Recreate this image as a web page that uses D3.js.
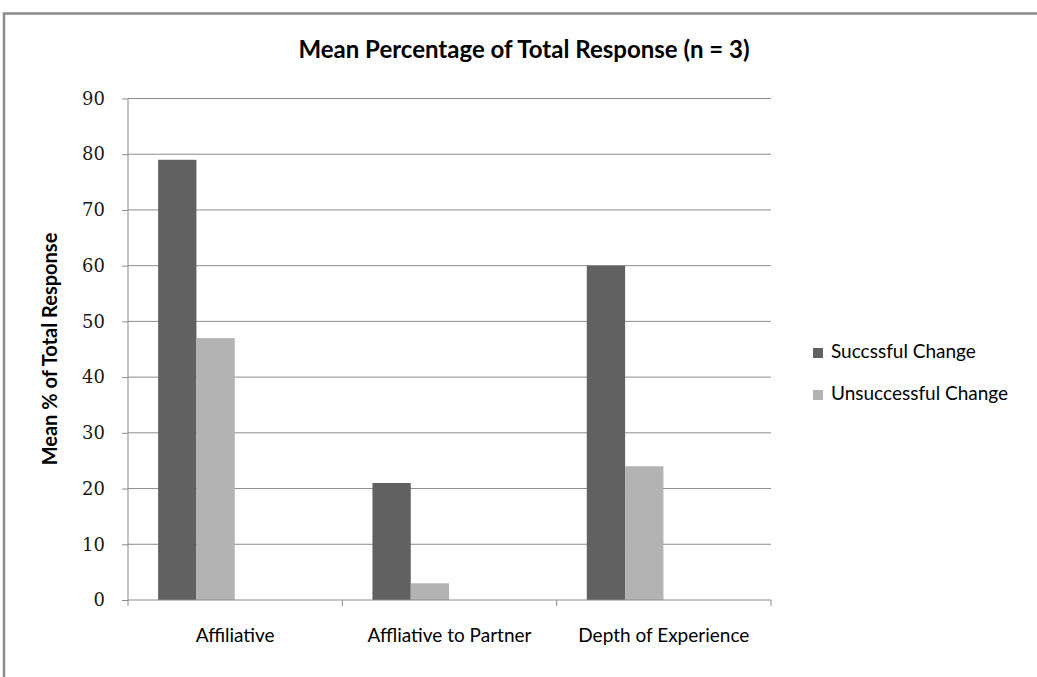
<!DOCTYPE html>
<html>
<head>
<meta charset="utf-8">
<script src="https://cdn.jsdelivr.net/npm/d3@7"></script>
<style>
    body { margin: 0; background: #fff; }
    svg text { fill: #000; }
</style>
</head>
<body>
<div id="chart"></div>
<script>
var categories = ["Affiliative", "Affliative to Partner", "Depth of Experience"]
var seriesNames = ["Succssful Change", "Unsuccessful Change"]
var successful = [79, 21, 60]
var unsuccessful = [47, 3, 24]
var yTicks = [0, 10, 20, 30, 40, 50, 60, 70, 80, 90]
var colors = ["#616161", "#b3b3b3"]

function draw_chart() {
    var width = 1037
    var height = 677
    var left = 128, right = 771, top = 98.5, bottom = 600

    var svg = d3.select("#chart")
        .append("svg")
        .attr("width", width)
        .attr("height", height)

    // outer frame (runs off the right and bottom of the image)
    svg.append("rect")
        .attr("x", 4).attr("y", 13.5)
        .attr("width", 1100).attr("height", 700)
        .attr("fill", "none")
        .attr("stroke", "#8c8c8c")
        .attr("stroke-width", 2.5)

    var y = d3.scaleLinear().domain([0, 90]).range([bottom, top])
    var x = d3.scaleBand().domain(categories).range([left, right])
    var bw = x.bandwidth()

    // gridlines
    svg.append("g").selectAll("line")
        .data(yTicks.filter((d) => d > 0))
        .enter().append("line")
        .attr("x1", left).attr("x2", right)
        .attr("y1", (d) => y(d)).attr("y2", (d) => y(d))
        .attr("stroke", "#8c8c8c").attr("stroke-width", 1)

    var yAxis = svg.append("g")
        .attr("transform", "translate(" + left + ",0)")
        .call(d3.axisLeft(y).tickValues(yTicks).tickSize(6).tickPadding(17))
    yAxis.select(".domain").attr("stroke", "#8c8c8c").attr("d", "M0," + top + "V" + bottom)
    yAxis.selectAll(".tick line").attr("stroke", "#8c8c8c")
    yAxis.selectAll("text")
        .attr("font-family", "'DejaVu Serif', serif")
        .attr("font-size", 18)
        .style("fill", "#1a1a1a")

    // bars: four slots per category, two filled
    var data = []
    categories.forEach((c, i) => {
        data.push({cat: c, s: 0, v: successful[i]})
        data.push({cat: c, s: 1, v: unsuccessful[i]})
    })
    svg.append("g").selectAll("rect")
        .data(data)
        .enter().append("rect")
        .attr("x", (d) => x(d.cat) + bw * 0.1405 + d.s * bw * 0.1788)
        .attr("width", bw * 0.1788)
        .attr("y", (d) => y(d.v))
        .attr("height", (d) => y(0) - y(d.v))
        .attr("fill", (d) => colors[d.s])

    var xAxis = svg.append("g")
        .attr("transform", "translate(0," + bottom + ")")
        .call(d3.axisBottom(x).tickSize(0).tickPadding(29))
    xAxis.select(".domain").attr("stroke", "#8c8c8c").attr("d", "M" + left + ",0H" + right)
    xAxis.selectAll("text")
        .attr("font-family", "Lato, sans-serif")
        .attr("font-size", 19)

    // category separators below the axis
    svg.append("g").selectAll("line")
        .data(d3.range(categories.length + 1))
        .enter().append("line")
        .attr("x1", (i) => left + i * bw).attr("x2", (i) => left + i * bw)
        .attr("y1", bottom).attr("y2", bottom + 6)
        .attr("stroke", "#8c8c8c")

    svg.append("text")
        .attr("x", 524).attr("y", 58)
        .attr("text-anchor", "middle")
        .attr("font-family", "Lato, sans-serif")
        .attr("font-weight", "bold")
        .attr("font-size", 24)
        .text("Mean Percentage of Total Response (n = 3)")

    svg.append("text")
        .attr("transform", "translate(57,349) rotate(-90)")
        .attr("text-anchor", "middle")
        .attr("font-family", "Lato, sans-serif")
        .attr("font-weight", "bold")
        .attr("font-size", 20)
        .text("Mean % of Total Response")

    var legend = svg.append("g").selectAll("g")
        .data(seriesNames)
        .enter().append("g")
        .attr("transform", (d, i) => "translate(813," + (348 + i * 42) + ")")
    legend.append("rect")
        .attr("width", 10).attr("height", 10)
        .attr("fill", (d, i) => colors[i])
    legend.append("text")
        .attr("x", 18).attr("y", 10)
        .attr("font-family", "Lato, sans-serif")
        .attr("font-size", 19)
        .text((d) => d)
}

draw_chart()
</script>
</body>
</html>
